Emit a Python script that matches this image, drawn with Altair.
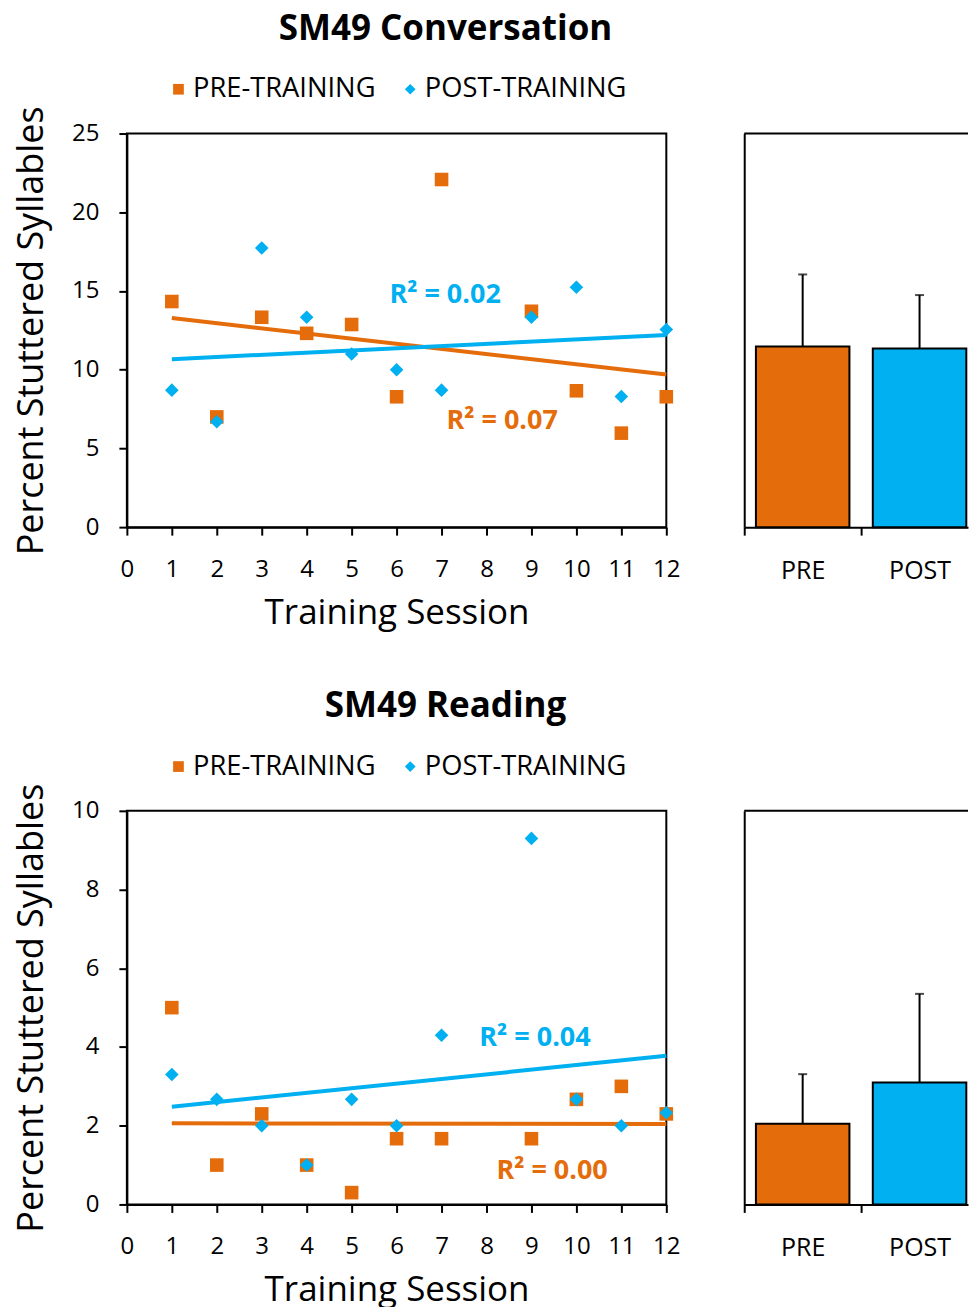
import altair as alt
import pandas as pd

FONT = "Open Sans"
ORANGE = "#E46C0A"
BLUE = "#00B0F0"

sessions = [1, 2, 3, 4, 5, 6, 7, 9, 10, 11, 12]
conv_pre = [14.33, 7.0, 13.33, 12.31, 12.87, 8.28, 22.08, 13.71, 8.66, 5.97, 8.28]
conv_post = [8.7, 6.69, 17.73, 13.33, 11.0, 10.0, 8.7, 13.33, 15.24, 8.3, 12.55]
read_pre = [5.0, 1.0, 2.3, 1.0, 0.3, 1.67, 1.67, 1.67, 2.67, 3.0, 2.3]
read_post = [3.3, 2.67, 2.0, 1.0, 2.67, 2.0, 4.3, 9.3, 2.67, 2.0, 2.33]

series_names = ["PRE-TRAINING", "POST-TRAINING"]
bar_groups = ["PRE", "POST"]
conv_means = [11.48, 11.34]
conv_err = [4.57, 3.40]
read_means = [2.05, 3.10]
read_err = [1.26, 2.25]

conv_r2_text = ["R² = 0.02", "R² = 0.07"]
conv_r2_x = [5.84, 7.11]
conv_r2_y = [14.72, 6.73]
read_r2_text = ["R² = 0.04", "R² = 0.00"]
read_r2_x = [7.84, 8.22]
read_r2_y = [4.22, 0.86]

color_scale = alt.Scale(domain=series_names, range=[ORANGE, BLUE])
shape_scale = alt.Scale(domain=series_names, range=["square", "diamond"])
# same mapping, listed in the other order so these unlabeled scales keep out of the legend
other_scale = alt.Scale(domain=series_names[::-1], range=[BLUE, ORANGE])

BAR_W = 224          # visible part of the bar panel (the panel is cut at the page edge)
BAR_STEP = 117       # width of one category
BAR_XMAX = BAR_W / BAR_STEP


def legend_params():
    return alt.Legend(orient="none", legendX=38, legendY=-58,
                      direction="horizontal", title=None,
                      labelFontSize=27.3, labelFont=FONT, labelColor="black",
                      labelLimit=0, symbolSize=115, labelOffset=1,
                      columnPadding=21, symbolStrokeWidth=0)


def make_row(title, pre, post, ymax, ystep, means, errs, r2_text, r2_x, r2_y):
    pts = pd.DataFrame({
        "session": sessions + sessions,
        "value": pre + post,
        "series": [series_names[0]] * len(pre) + [series_names[1]] * len(post),
    })
    xs = alt.X("session:Q", scale=alt.Scale(domain=[0, 12], nice=False),
               axis=alt.Axis(values=list(range(0, 13)), title="Training Session",
                             titleFontSize=35, titlePadding=14.5, labelPadding=22,
                             labelFlush=False))
    ys = alt.Y("value:Q", scale=alt.Scale(domain=[0, ymax], nice=False),
               axis=alt.Axis(values=list(range(0, ymax + 1, ystep)),
                             title="Percent Stuttered Syllables",
                             titleFontSize=36, titlePadding=21, labelPadding=20))
    points = alt.Chart(pts).mark_point(filled=True, opacity=1, size=185).encode(
        x=xs, y=ys,
        color=alt.Color("series:N", scale=color_scale, sort=series_names,
                        legend=legend_params()),
        shape=alt.Shape("series:N", scale=shape_scale, sort=series_names,
                        legend=legend_params()),
    )
    lines = alt.Chart(pts).transform_regression(
        "session", "value", groupby=["series"], extent=[1, 12]
    ).mark_line(strokeWidth=4).encode(
        x="session:Q", y="value:Q",
        stroke=alt.Stroke("series:N", scale=other_scale, legend=None),
    )
    ann = pd.DataFrame({"text": r2_text, "x": r2_x, "y": r2_y, "series": series_names[::-1]})
    labels = alt.Chart(ann).mark_text(align="left", baseline="middle", fontSize=27,
                                      fontWeight="bold", font=FONT).encode(
        x="x:Q", y="y:Q", text="text:N",
        fill=alt.Fill("series:N", scale=other_scale, legend=None),
    )
    scatter = alt.layer(lines, points, labels).properties(
        width=540, height=394,
        title=alt.TitleParams(title, fontSize=35, fontWeight="bold", font=FONT,
                              dx=49, offset=28.5, color="black"),
    )

    bars_df = pd.DataFrame({"group": bar_groups, "idx": [0, 1], "mean": means,
                            "err": errs, "series": series_names})
    base = alt.Chart(bars_df).transform_calculate(
        x0="datum.idx + 0.1", x1="datum.idx + 0.9", xc="datum.idx + 0.5",
        top="datum.mean + datum.err", zero="0")
    label_expr = "[" + ",".join(f"'{g}'" for g in bar_groups) + "][datum.value]"
    bx = alt.X("x0:Q", scale=alt.Scale(domain=[0, BAR_XMAX], nice=False, zero=False),
               axis=alt.Axis(title=None, values=[0, 1], labelExpr=label_expr,
                             labelOffset=BAR_STEP / 2, labelFlush=False,
                             labelFontSize=25, labelPadding=23, labelAngle=0))
    by = alt.Y("mean:Q", scale=alt.Scale(domain=[0, ymax], nice=False),
               axis=alt.Axis(title=None, labels=False, ticks=False))
    bars = base.mark_bar(stroke="black", strokeWidth=2).encode(
        x=bx, x2="x1:Q", y=by, y2="zero:Q",
        fill=alt.Fill("series:N", scale=color_scale, legend=None),
    )
    err = base.mark_rule(strokeWidth=2, color="black").encode(
        x="xc:Q", y="mean:Q", y2="top:Q")
    cap = base.mark_tick(orient="horizontal", size=9, thickness=2,
                         color="black").encode(x="xc:Q", y="top:Q")
    frame_df = pd.DataFrame({"a": [0], "b": [BAR_XMAX], "t": [ymax]})
    top_line = alt.Chart(frame_df).mark_rule(strokeWidth=2, color="black").encode(
        x="a:Q", x2="b:Q", y="t:Q")
    barchart = alt.layer(bars, err, cap, top_line).properties(
        width=BAR_W, height=394, view=alt.ViewBackground(strokeOpacity=0))
    return alt.hconcat(scatter, barchart, spacing=62).resolve_scale(
        color="independent", fill="independent", stroke="independent",
        shape="independent", x="independent", y="independent")


row1 = make_row("SM49 Conversation", conv_pre, conv_post, 25, 5,
                conv_means, conv_err, conv_r2_text, conv_r2_x, conv_r2_y)
row2 = make_row("SM49 Reading", read_pre, read_post, 10, 2,
                read_means, read_err, read_r2_text, read_r2_x, read_r2_y)

chart = alt.vconcat(row1, row2, spacing=56).properties(
    padding={"left": 12, "top": 10, "right": 0, "bottom": 0}
).configure_view(stroke="black", strokeWidth=2).configure_axis(
    grid=False, domainColor="black", domainWidth=2, tickColor="black", tickWidth=2,
    tickSize=8, labelColor="black", titleColor="black", labelFont=FONT,
    titleFont=FONT, labelFontSize=24, titleFontWeight="normal",
).configure_legend(labelFont=FONT)

chart.save("out.html", embed_options={"renderer": "svg", "actions": False})
